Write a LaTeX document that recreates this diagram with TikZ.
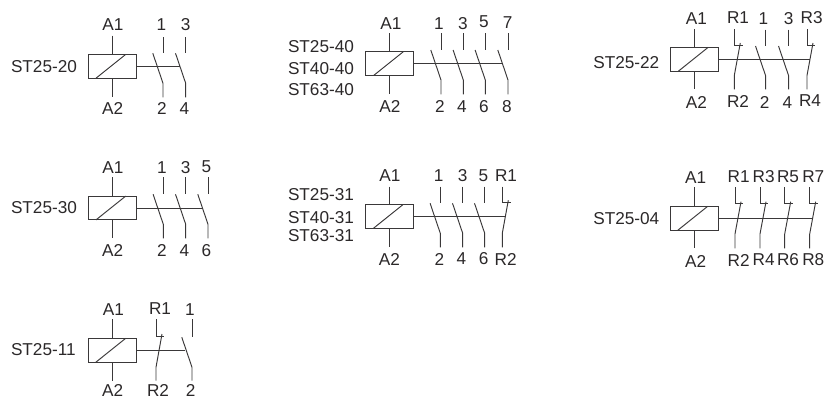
\documentclass[tikz,border=0pt]{standalone}
\usepackage{fontspec}
\setmainfont{Liberation Sans}
\definecolor{ink}{HTML}{2B2829}
\definecolor{wire}{HTML}{3A3839}
\tikzset{
  wireline/.style={draw=wire,line width=0.95pt,line cap=butt},
  coilbox/.style={draw=wire,line width=1.05pt,minimum width=48pt,minimum height=23.8pt,inner sep=0pt,outer sep=0pt},
  lab/.style={text=ink,inner sep=0pt,outer sep=0pt,font=\fontsize{17.2}{19}\selectfont},
}
% id, box centre x, box centre y, top of upper lead, bottom of lower lead, end x of link
\newcommand{\coilblock}[6]{
  \node[coilbox] (#1) at (#2,#3) {};
  \coordinate (#1-t) at (#2,#4);
  \coordinate (#1-b) at (#2,#5);
  \coordinate (#1-d1) at ($(#1.south west)+(7.7,0)$);
  \coordinate (#1-d2) at ($(#1.north west)+(37.4,0)$);
  \coordinate (#1-e) at (#6,#3);
  \draw[wireline] (#1-t) -- (#1.north);
  \draw[wireline] (#1.south) -- (#1-b);
  \draw[wireline] (#1-d1) -- (#1-d2);
  \draw[wireline] (#1.east) -- (#1-e);
}
% normally open contact: id, x, lead top, upper lead end, lower lead start, lead bottom
\newcommand{\nocont}[6]{
  \coordinate (#1-a) at (#2,#3);
  \coordinate (#1-b) at (#2,#4);
  \coordinate (#1-c) at (#2,#5);
  \coordinate (#1-d) at (#2,#6);
  \coordinate (#1-f) at ($(#1-c)+(-10.2,-30)$);
  \draw[wireline] (#1-a) -- (#1-b);
  \draw[wireline] (#1-d) -- (#1-c) -- (#1-f);
}
% normally closed contact
\newcommand{\nccont}[6]{
  \coordinate (#1-a) at (#2,#3);
  \coordinate (#1-b) at (#2,#4);
  \coordinate (#1-c) at (#2,#5);
  \coordinate (#1-d) at (#2,#6);
  \coordinate (#1-g) at ($(#1-b)+(8.3,0)$);
  \coordinate (#1-f) at ($(#1-b)+(6,-2)$);
  \draw[wireline] (#1-a) -- (#1-b) -- (#1-g);
  \draw[wireline] (#1-d) -- (#1-c) -- (#1-f);
}
\newcommand{\lbl}[4]{\node[lab] (#1) at (#2,#3) {#4};}
\newcommand{\lbw}[4]{\node[lab,anchor=west] (#1) at (#2,#3) {#4};}
\usetikzlibrary{calc}
\begin{document}
\begin{tikzpicture}[x=1pt,y=-1pt]
\useasboundingbox (0,0) rectangle (825,398);
% ST25-20
\coilblock{a}{112.3}{66.3}{35.7}{97.5}{180}
\nocont{a1}{163}{37.3}{52.7}{83.3}{97.5}
\nocont{a2}{185.7}{37.3}{52.7}{83.3}{97.5}
\lbw{at}{11}{66.7}{ST25-20}
\lbl{aA1}{113}{25}{A1}\lbl{aA2}{112.7}{108.7}{A2}
\lbl{al1}{161.3}{25}{1}\lbl{al3}{185.7}{25}{3}
\lbl{al2}{162}{108.7}{2}\lbl{al4}{184.3}{108.7}{4}
% ST25-30
\coilblock{b}{112.3}{208}{177.3}{238.3}{202.3}
\nocont{b1}{163.3}{177.3}{194}{224.3}{238.3}
\nocont{b2}{185.7}{177.3}{194}{224.3}{238.3}
\nocont{b3}{208}{177.3}{194}{224.3}{238.3}
\lbw{bt}{11}{208}{ST25-30}
\lbl{bA1}{113}{167.3}{A1}\lbl{bA2}{112.7}{250.7}{A2}
\lbl{bl1}{162}{167.3}{1}\lbl{bl3}{185.7}{167.3}{3}\lbl{bl5}{206.5}{166.7}{5}
\lbl{bl2}{162}{250.3}{2}\lbl{bl4}{184.3}{250.3}{4}\lbl{bl6}{206.3}{250.3}{6}
% ST25-11
\coilblock{c}{112.3}{350.2}{319.3}{380.7}{185}
\nccont{c1}{156}{319.3}{336}{367.3}{380.7}
\nocont{c2}{192}{319.3}{336.5}{367.3}{380.7}
\lbw{ct}{11}{350}{ST25-11}
\lbl{cA1}{113.3}{309.3}{A1}\lbl{cA2}{112.7}{390}{A2}
\lbl{cl1}{160}{308.3}{R1}\lbl{cl3}{190}{309.3}{1}
\lbl{cl2}{158}{390}{R2}\lbl{cl4}{190.7}{390}{2}
% ST25-40
\coilblock{d}{389.8}{63.7}{33.3}{94.3}{503}
\nocont{d1}{441}{33.3}{50}{80}{94.3}
\nocont{d2}{463.3}{33.3}{50}{80}{94.3}
\nocont{d3}{485.3}{33.3}{50}{80}{94.3}
\nocont{d4}{508}{33.3}{50}{80}{94.3}
\lbw{dt1}{288}{46.7}{ST25-40}\lbw{dt2}{288}{68.7}{ST40-40}\lbw{dt3}{288}{90}{ST63-40}
\lbl{dA1}{391}{23.3}{A1}\lbl{dA2}{390}{106.7}{A2}
\lbl{dl1}{439}{23.3}{1}\lbl{dl3}{463}{23.3}{3}\lbl{dl5}{484}{22}{5}\lbl{dl7}{507.7}{22.5}{7}
\lbl{dl2}{440}{106.7}{2}\lbl{dl4}{462}{106.7}{4}\lbl{dl6}{484}{106.7}{6}\lbl{dl8}{507}{106.7}{8}
% ST25-31
\coilblock{e}{389.5}{216.6}{186.7}{247.3}{505.7}
\nocont{e1}{440.3}{186.7}{203.3}{233.3}{247.3}
\nocont{e2}{462.7}{186.7}{203.3}{233.3}{247.3}
\nocont{e3}{484.7}{186.7}{203.3}{233.3}{247.3}
\nccont{e4}{502.3}{186.7}{202.3}{233.3}{247.3}
\lbw{et1}{288}{195}{ST25-31}\lbw{et2}{288}{217.3}{ST40-31}\lbw{et3}{288}{236}{ST63-31}
\lbl{eA1}{390}{175.3}{A1}\lbl{eA2}{389.3}{259}{A2}
\lbl{el1}{438.7}{175.3}{1}\lbl{el3}{462.7}{175.3}{3}\lbl{el5}{483.3}{175.3}{5}\lbl{el7}{506}{175.3}{R1}
\lbl{el2}{439.3}{259}{2}\lbl{el4}{461.3}{259}{4}\lbl{el6}{483.7}{259}{6}\lbl{el8}{505.7}{259}{R2}
% ST25-22
\coilblock{f}{694.8}{59.2}{29.3}{89.3}{810}
\nccont{f1}{734.3}{29.3}{45}{75.5}{89.3}
\nocont{f2}{765.7}{29.7}{45.7}{76}{89.3}
\nocont{f3}{788.7}{29.7}{45.7}{76}{89.3}
\nccont{f4}{807}{29.3}{45}{75.5}{89.3}
\lbw{ft}{593.3}{62.3}{ST25-22}
\lbl{fA1}{696.3}{19}{A1}\lbl{fA2}{696.3}{102.7}{A2}
\lbl{fl1}{738}{17.3}{R1}\lbl{fl3}{763.3}{18.3}{1}\lbl{fl5}{788.7}{19}{3}\lbl{fl7}{811.7}{17.7}{R3}
\lbl{fl2}{738}{101}{R2}\lbl{fl4}{764.7}{102.7}{2}\lbl{fl6}{787.3}{102.7}{4}\lbl{fl8}{810}{101}{R4}
% ST25-04
\coilblock{g}{694.3}{218.2}{187.3}{248.3}{812.7}
\nccont{g1}{735}{187.3}{203.7}{234}{248.3}
\nccont{g2}{760}{187.3}{203.7}{234}{248.3}
\nccont{g3}{784.7}{187.3}{203.7}{234}{248.3}
\nccont{g4}{809.7}{187.3}{203.7}{234}{248.3}
\lbw{gt}{593.3}{219}{ST25-04}
\lbl{gA1}{695.7}{177.7}{A1}\lbl{gA2}{695.7}{261}{A2}
\lbl{gl1}{738.7}{176.7}{R1}\lbl{gl3}{763.7}{176.7}{R3}\lbl{gl5}{788}{176.7}{R5}\lbl{gl7}{813.3}{176.7}{R7}
\lbl{gl2}{738.7}{260}{R2}\lbl{gl4}{763.7}{260}{R4}\lbl{gl6}{788}{260}{R6}\lbl{gl8}{813.3}{260}{R8}
\end{tikzpicture}
\end{document}
